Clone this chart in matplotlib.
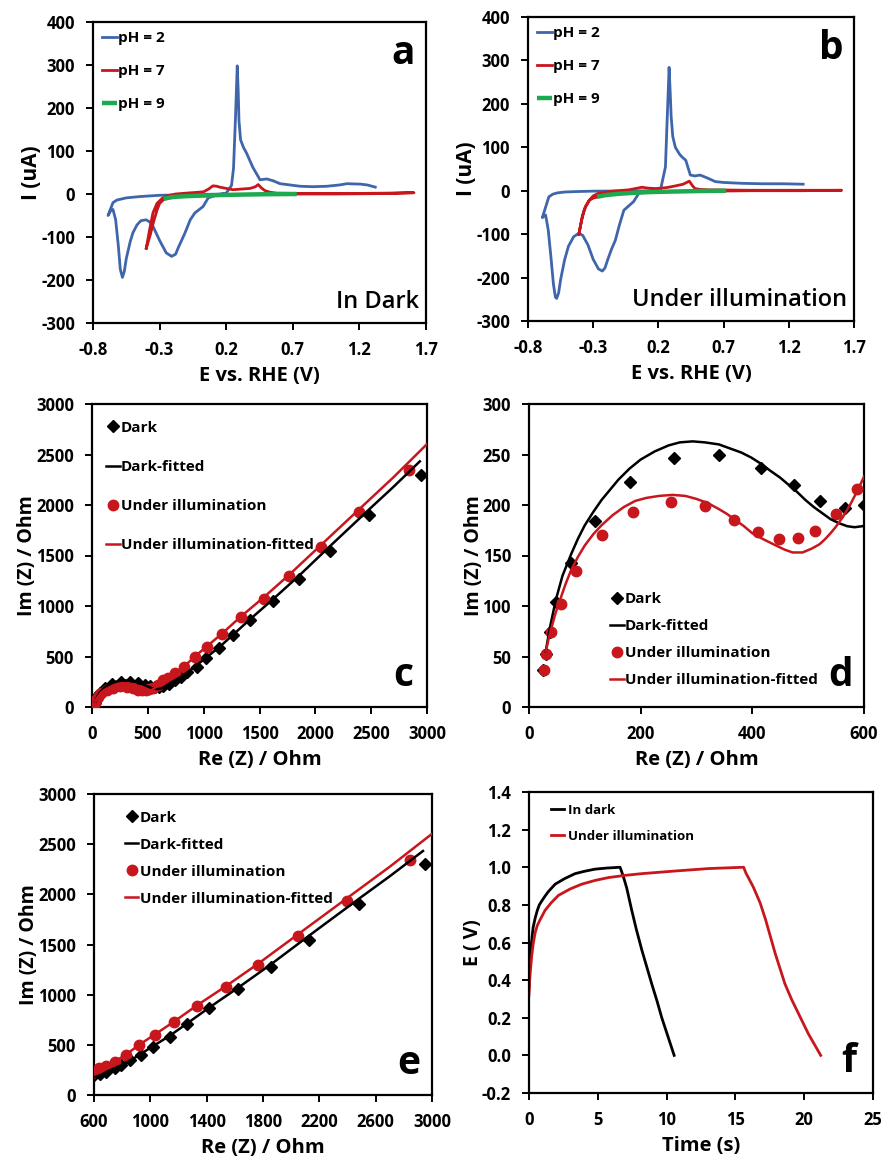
import matplotlib
matplotlib.use("Agg")
import matplotlib.pyplot as plt
from matplotlib.ticker import FormatStrFormatter

plt.rcParams['font.family'] = ['Open Sans', 'DejaVu Sans']
plt.rcParams['font.weight'] = 'bold'
plt.rcParams['axes.labelweight'] = 'bold'
plt.rcParams['axes.unicode_minus'] = False

BLUE = '#3F65AB'
RED = '#C8161D'
GREEN = '#1DAA4F'

# ---------------- Panel a (dark CV) ----------------
a_ph2_E = [0.20, 0.0, -0.30, -0.45, -0.55, -0.62, -0.65, -0.687, -0.67, -0.65, -0.63, -0.61, -0.595, -0.579,
           -0.565, -0.55, -0.52, -0.50, -0.47, -0.44, -0.40, -0.37, -0.35, -0.30, -0.25, -0.21, -0.18,
           -0.16, -0.11, -0.07, -0.035, 0.027, 0.065, 0.13,
           0.20, 0.24, 0.255, 0.27, 0.283, 0.29, 0.296, 0.308, 0.33, 0.353, 0.40, 0.454, 0.504, 0.55, 0.604, 0.68,
           0.755, 0.85, 0.955, 1.05, 1.106, 1.206, 1.26, 1.319]
a_ph2_I = [0, -1, -3, -6, -9, -14, -20, -50, -40, -36, -60, -120, -175, -194,
           -180, -150, -110, -90, -72, -62, -60, -66, -75, -108, -137, -145, -140,
           -125, -91, -60, -44, -29, -9, -2,
           2, 20, 60, 180, 298, 240, 170, 126, 108, 95, 62, 33, 35, 31, 24, 21,
           18, 17, 18, 21, 24, 23, 21, 16]
a_ph7_E = [-0.40, -0.385, -0.37, -0.35, -0.32, -0.28, -0.25, -0.18, -0.10, 0.03, 0.07, 0.10, 0.13, 0.15, 0.25, 0.38,
           0.42, 0.44, 0.465, 0.49, 0.53, 0.58, 0.80, 1.10, 1.40, 1.61, 1.40, 1.00, 0.70, 0.30, 0.0,
           -0.20, -0.27, -0.30, -0.32, -0.35, -0.37, -0.40]
a_ph7_I = [-126, -100, -75, -44, -22, -10, -5, 0, 2, 5, 12, 19, 18, 16, 10, 13,
           17, 22, 14, 8, 4, 2, 1, 1, 2, 3, 1, 0, 0, -1, -3,
           -6, -13, -22, -38, -70, -95, -126]
a_ph9_E = [-0.27, -0.20, -0.10, 0.0, 0.15, 0.30, 0.50, 0.73]
a_ph9_I = [-11, -7, -5, -4, -2.5, -1.5, -0.5, 0]

# ---------------- Panel b (illuminated CV) ----------------
b_ph2_E = [0.20, 0.0, -0.30, -0.435, -0.52, -0.575, -0.61, -0.64, -0.69, -0.665, -0.645, -0.625, -0.605,
           -0.59, -0.58, -0.565, -0.55, -0.52, -0.49, -0.45, -0.41, -0.38, -0.34, -0.30, -0.26, -0.23,
           -0.21, -0.19, -0.16, -0.13, -0.10, -0.065, 0.01, 0.05,
           0.13, 0.215, 0.254, 0.268, 0.282, 0.29, 0.298, 0.31, 0.33, 0.36, 0.38, 0.41, 0.445, 0.48, 0.52, 0.57,
           0.636, 0.70, 0.84, 1.0, 1.15, 1.31]
b_ph2_I = [0, -0.5, -1, -2, -3, -5, -8, -14, -62, -56, -90, -150, -215,
           -245, -248, -235, -205, -160, -128, -106, -98, -103, -125, -158, -180, -185,
           -178, -160, -135, -114, -80, -45, -25, -6,
           -1, 0, 55, 170, 284, 230, 170, 125, 100, 85, 78, 70, 36, 34, 36, 30,
           21, 19, 17, 16, 16, 15]
b_ph7_E = [-0.41, -0.39, -0.375, -0.36, -0.33, -0.30, -0.26, -0.15, -0.027, 0.075, 0.12, 0.18, 0.26, 0.33, 0.39,
           0.437, 0.46, 0.48, 0.52, 0.585, 0.90, 1.20, 1.605, 1.30, 0.90, 0.60, 0.30, 0.0, -0.20,
           -0.26, -0.30, -0.33, -0.36, -0.384, -0.41]
b_ph7_I = [-100, -70, -50, -37, -22, -12, -6, -1, 2, 8, 6, 5, 7, 11, 15,
           22, 12, 5, 3, 2, 1, 1, 1, 0, 0, -1, -2, -4, -8,
           -14, -17, -22, -38, -60, -100]
b_ph9_E = [-0.27, -0.20, -0.10, 0.0, 0.15, 0.30, 0.50, 0.72]
b_ph9_I = [-14, -10, -7, -5, -3, -2, -0.8, 0]

# ---------------- Impedance data (panels c, d, e) ----------------
dark_re = [25.7, 31, 37, 48, 76, 119, 181, 260, 340, 415, 475, 522, 566,
           600, 640, 687, 747, 794, 853, 936, 1019, 1137, 1263, 1417, 1624, 1854, 2129, 2485, 2948]
dark_im = [37, 52, 74, 104, 143, 184, 223, 247, 250, 237, 220, 204, 197,
           200, 209, 232, 266, 299, 349, 399, 482, 581, 708, 864, 1053, 1272, 1545, 1900, 2299]
illum_re = [26, 31, 40, 57, 85, 130, 187, 254, 316, 368, 411, 447, 481, 513, 549, 588,
            636, 683, 747, 825, 920, 1032, 1167, 1333, 1537, 1767, 2047, 2395, 2841]
illum_im = [37, 52, 74, 102, 135, 170, 193, 203, 199, 185, 173, 166, 167, 174, 191, 216,
            272, 292, 332, 399, 498, 598, 724, 890, 1073, 1296, 1588, 1934, 2342]

dark_fit_re = [30, 34, 38, 43, 48, 54, 60, 68, 76, 88, 100, 115, 130, 145, 160, 180, 200, 225, 250, 270,
               293, 315, 340, 360, 380, 398, 415, 432, 450, 465, 480, 495, 510, 525, 540, 555,
               570, 583, 597, 610, 625, 650, 700, 800, 900, 1000, 1137, 1263, 1417, 1624, 1854, 2129,
               2485, 2700, 2936]
dark_fit_im = [55, 68, 80, 93, 106, 118, 130, 141, 152, 167, 180, 193, 205, 215, 225, 236, 245, 253, 259, 262,
               263, 262, 260, 256, 252, 247, 241, 234, 227, 220, 213, 205, 198, 192, 186, 182,
               179, 178, 179, 181, 186, 200, 238, 300, 380, 470, 590, 715, 870, 1070, 1300, 1590,
               1960, 2180, 2432]
illum_fit_re = [30, 35, 40, 47, 55, 65, 75, 88, 100, 115, 130, 150, 170, 190, 210, 233, 257, 280, 300, 320,
                340, 355, 370, 385, 400, 420, 442, 457, 472, 490, 507, 520, 530, 540, 549, 562,
                575, 588, 600, 640, 683, 747, 825, 920, 1032, 1167, 1333, 1537, 1767, 2047, 2395,
                2700, 3000]
illum_fit_im = [55, 67, 78, 92, 105, 121, 135, 149, 160, 171, 180, 190, 198, 204, 207, 209, 210, 209, 206, 202,
                196, 191, 185, 179, 172, 166, 160, 156, 153, 153, 157, 161, 166, 172, 178, 188,
                200, 214, 228, 262, 292, 335, 400, 500, 603, 730, 895, 1085, 1310, 1600, 1960,
                2275, 2603]

# ---------------- Panel f (charge / discharge) ----------------
f_dark_t = [0, 0.03, 0.07, 0.15, 0.3, 0.45, 0.6, 0.75, 0.92, 1.15, 1.4, 1.9, 2.6, 3.35, 4.0, 4.8, 5.7, 6.62,
            6.86, 7.1, 7.47, 7.8, 8.2, 8.6, 8.92, 9.3, 9.65, 10.1, 10.55]
f_dark_E = [0.363, 0.43, 0.49, 0.58, 0.68, 0.73, 0.77, 0.80, 0.82, 0.845, 0.87, 0.91, 0.94, 0.966, 0.978,
            0.99, 0.996, 1.0, 0.95, 0.89, 0.77, 0.67, 0.56, 0.46, 0.38, 0.29, 0.2, 0.1, 0.0]
f_ill_t = [0, 0.04, 0.1, 0.2, 0.3, 0.44, 0.6, 0.8, 1.16, 1.6, 2.13, 3.0, 3.83, 4.8, 5.77, 7.0, 8.2, 10.62,
           13.05, 15.6, 15.76, 16.3, 16.8, 17.2, 17.9, 18.6, 19.1, 19.6, 20.3, 21.2]
f_ill_E = [0.32, 0.39, 0.45, 0.53, 0.59, 0.65, 0.69, 0.72, 0.77, 0.81, 0.85, 0.885, 0.91, 0.93, 0.945, 0.957,
           0.966, 0.98, 0.993, 1.0, 0.97, 0.895, 0.81, 0.72, 0.54, 0.38, 0.295, 0.22, 0.115, 0.0]

# ---------------- Figure ----------------
fig = plt.figure(figsize=(8.84, 11.57), dpi=100)
W, H = 884, 1157


def add_ax(l, r, t, b):
    return fig.add_axes([l / W, 1 - b / H, (r - l) / W, (b - t) / H])


TICK_FS = 12
XLAB_FS = 14.5
YLAB_FS = 14


def style(ax):
    for s in ax.spines.values():
        s.set_linewidth(1.6)
    ax.tick_params(direction='out', length=5, width=1.4, labelsize=TICK_FS,
                   top=False, right=False, pad=8)
    for lab in ax.get_xticklabels() + ax.get_yticklabels():
        lab.set_fontweight('bold')


axa = add_ax(93, 426, 22, 323)
axb = add_ax(528, 854, 17, 321)
axc = add_ax(92, 427, 404, 707)
axd = add_ax(529, 864, 404, 707)
axe = add_ax(94, 432, 794, 1095)
axf = add_ax(529, 873, 792, 1093)

# CV panels
for ax, d, letter, note in [
    (axa, (a_ph2_E, a_ph2_I, a_ph7_E, a_ph7_I, a_ph9_E, a_ph9_I), 'a', 'In Dark'),
    (axb, (b_ph2_E, b_ph2_I, b_ph7_E, b_ph7_I, b_ph9_E, b_ph9_I), 'b', 'Under illumination')]:
    ax.plot(d[0], d[1], color=BLUE, lw=2.0, label='pH = 2', solid_joinstyle='round')
    ax.plot(d[2], d[3], color=RED, lw=2.0, label='pH = 7', solid_joinstyle='round')
    ax.plot(d[4], d[5], color=GREEN, lw=3.2, label='pH = 9', solid_capstyle='butt')
    ax.set_xlim(-0.8, 1.7)
    ax.set_ylim(-300, 400)
    ax.set_xticks([-0.8, -0.3, 0.2, 0.7, 1.2, 1.7])
    ax.set_yticks(range(-300, 401, 100))
    ax.xaxis.set_major_formatter(FormatStrFormatter('%.1f'))
    ax.set_xlabel('E vs. RHE (V)', fontsize=XLAB_FS, fontweight='bold', labelpad=5)
    ax.set_ylabel('I (uA)', fontsize=YLAB_FS + 1, fontweight='bold', labelpad=-1)
    ax.legend(loc='upper left', frameon=False, handlelength=1.0,
              handletextpad=0.05, labelspacing=1.25, borderaxespad=0.2,
              prop={'weight': 'bold', 'size': 11})
    ax.text(0.93, 0.96, letter, transform=ax.transAxes, fontsize=28, fontweight='bold',
            ha='center', va='top')
    ax.text(0.98, 0.07, note, transform=ax.transAxes, fontsize=17, fontweight='semibold',
            ha='right', va='center')
    style(ax)

# Impedance panels
MS = 7.5


def eis(ax):
    ax.plot(dark_re, dark_im, linestyle='none', marker='D', color='black', ms=MS * 0.85,
            label='Dark', zorder=3)
    ax.plot(dark_fit_re, dark_fit_im, color='black', lw=1.8, label='Dark-fitted', zorder=4)
    ax.plot(illum_re, illum_im, linestyle='none', marker='o', color=RED, ms=MS,
            label='Under illumination', zorder=3)
    ax.plot(illum_fit_re, illum_fit_im, color=RED, lw=1.8, label='Under illumination-fitted',
            zorder=4)


for ax in (axc, axd, axe):
    eis(ax)
    ax.set_xlabel('Re (Z) / Ohm', fontsize=XLAB_FS, fontweight='bold', labelpad=5)
    ax.set_ylabel('Im (Z) / Ohm', fontsize=YLAB_FS, fontweight='bold', labelpad=-1)

LEG_FS = 11
axc.set_xlim(0, 3000)
axc.set_ylim(0, 3000)
axc.set_xticks(range(0, 3001, 500))
axc.set_yticks(range(0, 3001, 500))
axc.legend(loc='upper left', frameon=False, handlelength=0.9, handletextpad=0.1,
           labelspacing=1.65, borderaxespad=0.5, prop={'weight': 'bold', 'size': LEG_FS},
           bbox_to_anchor=(0.0, 0.99))
axc.text(0.93, 0.04, 'c', transform=axc.transAxes, fontsize=28, fontweight='bold',
         ha='center', va='bottom')
style(axc)

axd.set_xlim(0, 600)
axd.set_ylim(0, 300)
axd.set_xticks(range(0, 601, 200))
axd.set_yticks(range(0, 301, 50))
axd.legend(loc='lower left', frameon=False, handlelength=0.9, handletextpad=0.1,
           labelspacing=0.85, prop={'weight': 'bold', 'size': LEG_FS},
           bbox_to_anchor=(0.2, 0.02))
axd.text(0.93, 0.04, 'd', transform=axd.transAxes, fontsize=28, fontweight='bold',
         ha='center', va='bottom')
style(axd)

axe.set_xlim(600, 3000)
axe.set_ylim(0, 3000)
axe.set_xticks(range(600, 3001, 400))
axe.set_yticks(range(0, 3001, 500))
axe.legend(loc='upper left', frameon=False, handlelength=0.9, handletextpad=0.1,
           labelspacing=0.85, prop={'weight': 'bold', 'size': LEG_FS},
           bbox_to_anchor=(0.05, 0.99))
axe.text(0.93, 0.04, 'e', transform=axe.transAxes, fontsize=28, fontweight='bold',
         ha='center', va='bottom')
style(axe)

# Panel f
axf.plot(f_dark_t, f_dark_E, color='black', lw=2.0, label='In dark')
axf.plot(f_ill_t, f_ill_E, color=RED, lw=2.0, label='Under illumination')
axf.set_xlim(0, 25)
axf.set_ylim(-0.2, 1.4)
axf.set_xticks(range(0, 26, 5))
axf.set_yticks([-0.2, 0.0, 0.2, 0.4, 0.6, 0.8, 1.0, 1.2, 1.4])
axf.yaxis.set_major_formatter(FormatStrFormatter('%.1f'))
axf.set_xlabel('Time (s)', fontsize=XLAB_FS, fontweight='bold', labelpad=5)
axf.set_ylabel('E ( V)', fontsize=YLAB_FS, fontweight='bold', labelpad=-1)
axf.legend(loc='upper left', frameon=False, handlelength=1.0, handletextpad=0.3,
           labelspacing=1.0, prop={'weight': 'bold', 'size': 9.5},
           bbox_to_anchor=(0.03, 1.0))
axf.text(0.93, 0.04, 'f', transform=axf.transAxes, fontsize=28, fontweight='bold',
         ha='center', va='bottom')
style(axf)

fig.savefig('out.png', dpi=100)
